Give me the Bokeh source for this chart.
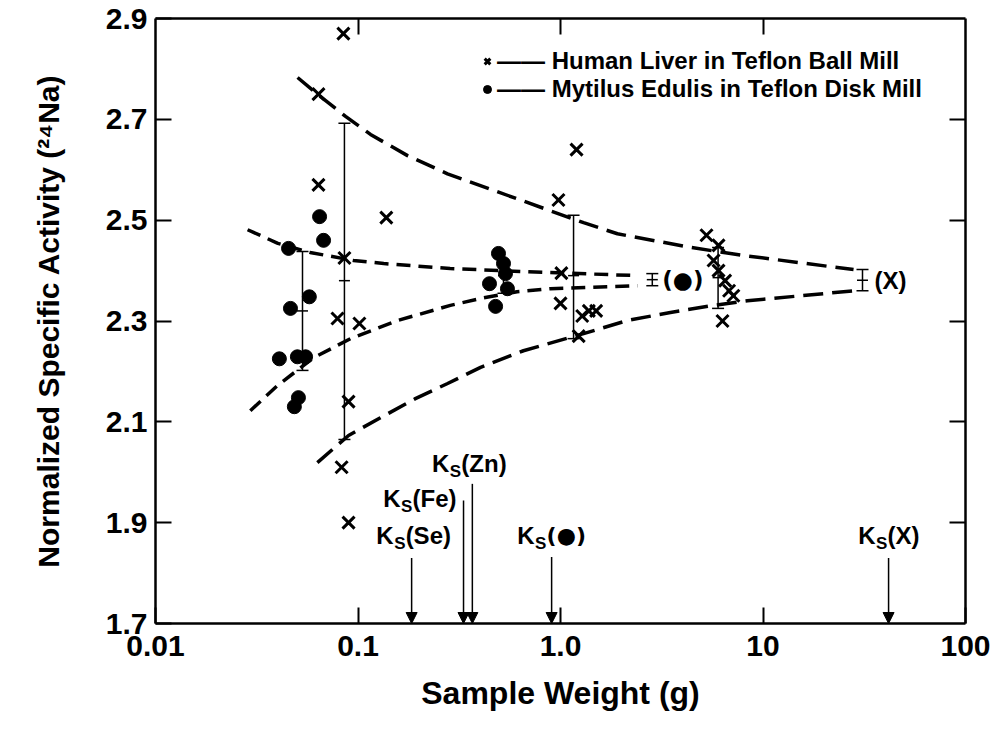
from bokeh.plotting import figure
from bokeh.models import (ColumnDataSource, Whisker, TeeHead, Arrow, NormalHead, Label,
                          LogAxis, LinearAxis, FixedTicker, Legend, LegendItem, Range1d)
from bokeh.embed import file_html
from bokeh.resources import INLINE

FONT = "Liberation Sans"
DOT_FONT = "DejaVu Sans"

# ---------------- data ----------------
# Human liver in Teflon ball mill (x markers)
liver_w = [0.0847, 0.0638, 0.0638, 0.138, 0.0857, 0.0792, 0.1016, 0.0898, 0.083, 0.0898,
           0.977, 1.20, 1.01, 1.0, 1.28, 1.38, 1.50, 1.23,
           5.26, 6.03, 5.70, 6.03, 6.5, 6.8, 7.14, 6.31]
liver_y = [2.87, 2.75, 2.57, 2.505, 2.425, 2.305, 2.295, 2.14, 2.01, 1.90,
           2.54, 2.64, 2.395, 2.335, 2.31, 2.32, 2.32, 2.27,
           2.47, 2.45, 2.42, 2.40, 2.38, 2.36, 2.35, 2.30]

# Mytilus edulis in Teflon disk mill (dots)
mussel_w = [0.0646, 0.0676, 0.0454, 0.0575, 0.0464, 0.0409, 0.0502, 0.0551, 0.0508, 0.0485,
            0.494, 0.523, 0.535, 0.446, 0.547, 0.478]
mussel_y = [2.507, 2.46, 2.444, 2.348, 2.325, 2.225, 2.229, 2.229, 2.148, 2.130,
            2.434, 2.414, 2.394, 2.374, 2.364, 2.329]

# dashed envelope curves
liver_upper_w = [0.0503, 0.0653, 0.0868, 0.1153, 0.1756, 0.2767, 1.30, 1.91, 4.38, 8.0, 28.0]
liver_upper_y = [2.783, 2.745, 2.706, 2.670, 2.628, 2.592, 2.495, 2.473, 2.446, 2.430, 2.402]
liver_lower_w = [0.063, 0.0898, 0.129, 0.192, 0.277, 0.403, 0.656, 1.30, 2.14, 3.49, 5.70, 8.37, 28.0]
liver_lower_y = [2.019, 2.073, 2.108, 2.146, 2.176, 2.208, 2.241, 2.275, 2.301, 2.317, 2.331, 2.340, 2.360]
mussel_upper_w = [0.0285, 0.035, 0.0402, 0.058, 0.095, 0.134, 0.285, 0.89, 2.40]
mussel_upper_y = [2.481, 2.465, 2.454, 2.436, 2.420, 2.414, 2.404, 2.396, 2.390]
mussel_lower_w = [0.0294, 0.040, 0.0603, 0.0918, 0.157, 0.286, 0.417, 0.61, 0.89, 2.40]
mussel_lower_y = [2.122, 2.172, 2.227, 2.265, 2.301, 2.331, 2.346, 2.358, 2.364, 2.370]

# error bars (mean, lower, upper)
eb_w = [0.0532, 0.0857, 1.16, 0.523, 6.0, 2.84, 31.0]
eb_mean = [2.32, 2.38, 2.39, 2.39, 2.386, 2.382, 2.381]
eb_lower = [2.202, 2.065, 2.265, 2.355, 2.325, 2.370, 2.360]
eb_upper = [2.438, 2.692, 2.51, 2.42, 2.446, 2.394, 2.402]

# sampling constants Ks (arrows)
ks_w = [0.184, 0.332, 0.367, 0.904, 41.7]
ks_names = ["(Se)", "(Fe)", "(Zn)", "(\u25cf)", "(X)"]

x_ticks = [0.01, 0.1, 1, 10, 100]
x_tick_labels = ["0.01", "0.1", "1.0", "10", "100"]
y_ticks = [1.7, 1.9, 2.1, 2.3, 2.5, 2.7, 2.9]

# ---------------- styles / layout ----------------
arrow_top = [1.830, 1.944, 1.977, 1.832, 1.830]
label_base = [1.874, 1.948, 2.017, 1.874, 1.874]
k_end_offset = [-18, -63, -23, -17, -13]

p = figure(width=993, height=740, x_axis_type="log",
           x_range=Range1d(0.01, 100), y_range=Range1d(1.7, 2.9),
           output_backend="svg", toolbar_location=None,
           min_border_left=155, min_border_right=28, min_border_top=18, min_border_bottom=117)
p.background_fill_color = "white"
p.border_fill_color = "white"
p.outline_line_color = None
p.grid.visible = False

def style_axis(ax):
    ax.axis_line_width = 2.5
    ax.axis_line_color = "black"
    ax.major_tick_in = 16
    ax.major_tick_out = 0
    ax.major_tick_line_width = 2
    ax.major_tick_line_color = "black"
    ax.minor_tick_line_color = None
    ax.major_label_text_font = FONT
    ax.major_label_text_font_style = "bold"
    ax.major_label_text_font_size = "30px"
    ax.major_label_text_color = "black"
    ax.axis_label_text_font = FONT
    ax.axis_label_text_font_style = "bold"
    ax.axis_label_text_font_size = "30px"
    ax.axis_label_text_color = "black"

xa = p.xaxis[0]
style_axis(xa)
xa.ticker = FixedTicker(ticks=x_ticks)
xa.major_label_overrides = {t: s for t, s in zip(x_ticks, x_tick_labels)}
xa.major_label_standoff = 12
xa.axis_label = "Sample Weight (g)"
xa.axis_label_text_font_size = "32px"
xa.axis_label_standoff = 16

ya = p.yaxis[0]
style_axis(ya)
ya.ticker = FixedTicker(ticks=y_ticks)
ya.major_label_standoff = 8
ya.axis_label = "Normalized Specific Activity (\u00b2\u2074Na)"
ya.axis_label_standoff = 38

top_ax = LogAxis(ticker=FixedTicker(ticks=[0.1, 1, 10]))
style_axis(top_ax)
top_ax.major_label_text_font_size = "1px"
top_ax.major_label_text_color = None
top_ax.major_label_standoff = 0
p.add_layout(top_ax, "above")

right_ax = LinearAxis(ticker=FixedTicker(ticks=y_ticks[1:-1]))
style_axis(right_ax)
right_ax.major_label_text_font_size = "1px"
right_ax.major_label_text_color = None
right_ax.major_label_standoff = 0
p.add_layout(right_ax, "right")

# dashed curves
p.line(liver_upper_w, liver_upper_y, line_dash="20 9", line_width=3.5, color="black")
p.line(liver_lower_w, liver_lower_y, line_dash="20 9", line_width=3.5, color="black")
p.line(mussel_upper_w, mussel_upper_y, line_dash="14 8", line_width=3.5, color="black")
p.line(mussel_lower_w, mussel_lower_y, line_dash="14 8", line_width=3.5, color="black")

# error bars
eb_src = ColumnDataSource(dict(w=eb_w, mean=eb_mean, lower=eb_lower, upper=eb_upper))
p.add_layout(Whisker(source=eb_src, base="w", lower="lower", upper="upper", dimension="height",
                     line_width=1.5, line_color="black",
                     lower_head=TeeHead(size=12, line_width=1.5, line_color="black"),
                     upper_head=TeeHead(size=12, line_width=1.5, line_color="black")))
p.scatter("w", "mean", source=eb_src, marker="dash", size=11, line_width=1.5, color="black")

# points
r_liver = p.scatter(liver_w, liver_y, marker="x", size=17, line_width=3, color="black")
r_mussel = p.scatter(mussel_w, mussel_y, marker="circle", size=14, color="black")

# legend
legend = Legend(items=[LegendItem(label="\u2014\u2014 Human Liver in Teflon Ball Mill", renderers=[r_liver]),
                       LegendItem(label="\u2014\u2014 Mytilus Edulis in Teflon Disk Mill", renderers=[r_mussel])],
                location=(322, 520), padding=0, margin=0, spacing=0,
                glyph_width=20, glyph_height=22, label_standoff=0, label_height=22,
                border_line_color=None, background_fill_alpha=0,
                label_text_font=FONT, label_text_font_style="bold", label_text_font_size="24px",
                label_text_color="black")
p.add_layout(legend, "center")

# Ks arrows
ks_src = ColumnDataSource(dict(w=ks_w, top=arrow_top, bottom=[1.7] * len(ks_w)))
p.add_layout(Arrow(source=ks_src, x_start="w", y_start="top", x_end="w", y_end="bottom",
                   line_width=1.5, line_color="black",
                   end=NormalHead(size=11, fill_color="black", line_color="black", line_width=1)))

for w, yb, off, nm in zip(ks_w, label_base, k_end_offset, ks_names):
    p.add_layout(Label(x=w, y=yb, x_offset=off, text="K", text_align="right",
                       text_baseline="alphabetic", text_font=FONT, text_font_style="bold",
                       text_font_size="24px", text_color="black"))
    p.add_layout(Label(x=w, y=yb, x_offset=off + 0.5, y_offset=-8, text="S", text_align="left",
                       text_baseline="alphabetic", text_font=FONT, text_font_style="bold",
                       text_font_size="17px", text_color="black"))
    fnt = DOT_FONT if "\u25cf" in nm else FONT
    p.add_layout(Label(x=w, y=yb, x_offset=off + 12, text=nm, text_align="left",
                       text_baseline="alphabetic", text_font=fnt, text_font_style="bold",
                       text_font_size="22px" if fnt == DOT_FONT else "24px", text_color="black"))

# markers of the asymptotic values
p.add_layout(Label(x=eb_w[5], y=eb_mean[5], x_offset=10, text="(\u25cf)", text_align="left",
                   text_baseline="middle", text_font=DOT_FONT, text_font_style="bold",
                   text_font_size="23px", text_color="black"))
p.add_layout(Label(x=eb_w[6], y=eb_mean[6], x_offset=12, text="(X)", text_align="left",
                   text_baseline="middle", text_font=FONT, text_font_style="bold",
                   text_font_size="24px", text_color="black"))

open("out.html", "w").write(file_html(p, INLINE))
